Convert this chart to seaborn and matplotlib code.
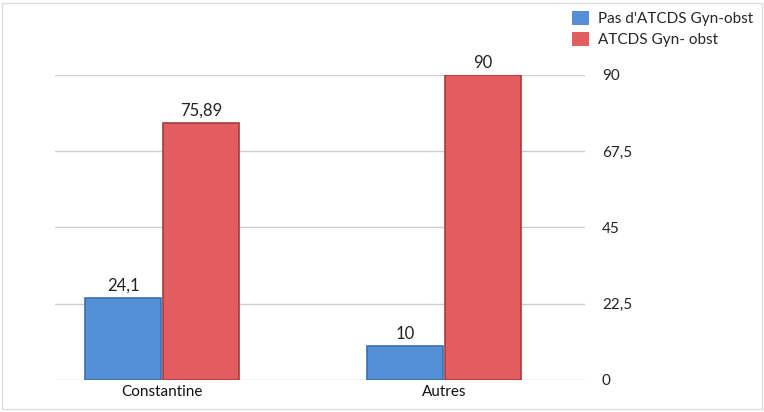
import matplotlib
matplotlib.use("Agg")
import matplotlib.pyplot as plt
import seaborn as sns
import pandas as pd
from matplotlib.patches import Rectangle

categories = ["Constantine", "Autres"]
series = ["Pas d'ATCDS Gyn-obst", "ATCDS Gyn- obst"]
values_no = [24.1, 10]
values_yes = [75.89, 90]
value_labels_no = ["24,1", "10"]
value_labels_yes = ["75,89", "90"]
yticks = [0, 22.5, 45, 67.5, 90]
ytick_labels = ["0", "22,5", "45", "67,5", "90"]

df = pd.DataFrame({
    "cat": categories * 2,
    "serie": [series[0]] * 2 + [series[1]] * 2,
    "val": values_no + values_yes,
})

sns.set_theme(style="white")
plt.rcParams["font.family"] = ["Lato", "DejaVu Sans"]

colors = ["#5590D6", "#E25D5F"]
fig = plt.figure(figsize=(7.64, 4.12), dpi=100)
ax = fig.add_axes([0.072, 0.078, 0.694, 0.74])

sns.barplot(data=df, x="cat", y="val", hue="serie", order=categories,
            hue_order=series, palette=colors, width=0.55, gap=0.02,
            saturation=1, ax=ax, legend=False)

edge_cols = ["#3A6FB0", "#A83A3C"]
for container, ec, labels in zip(ax.containers, edge_cols, [value_labels_no, value_labels_yes]):
    for bar in container:
        bar.set_edgecolor(ec)
        bar.set_linewidth(1.2)
    ax.bar_label(container, labels=labels, padding=3, fontsize=12, color="#222222")

ax.set_xlim(-0.38, 1.5)
ax.set_ylim(0, 90)
ax.set_yticks(yticks)
ax.set_yticklabels(ytick_labels)
ax.yaxis.tick_right()
ax.tick_params(axis="y", length=0, pad=12, labelsize=11, labelcolor="#222222")
ax.tick_params(axis="x", length=0, pad=4, labelsize=11, labelcolor="#111111")
ax.grid(axis="y", color="#CFCFCF", linewidth=1)
ax.set_axisbelow(True)
for s in ax.spines.values():
    s.set_visible(False)
ax.set_xlabel("")
ax.set_ylabel("")

handles = [Rectangle((0, 0), 1, 1, facecolor=c, edgecolor="none") for c in colors]
fig.legend(handles, series, loc="upper left", bbox_to_anchor=(0.735, 1.0),
           frameon=False, fontsize=11, handlelength=1.1, handleheight=1.1,
           handletextpad=0.6, labelspacing=0.35, borderaxespad=0.3)

fig.patches.append(Rectangle((0.003, 0.008), 0.994, 0.984, transform=fig.transFigure,
                             fill=False, edgecolor="#DDDDDD", linewidth=1))

fig.savefig("out.png", dpi=100)
